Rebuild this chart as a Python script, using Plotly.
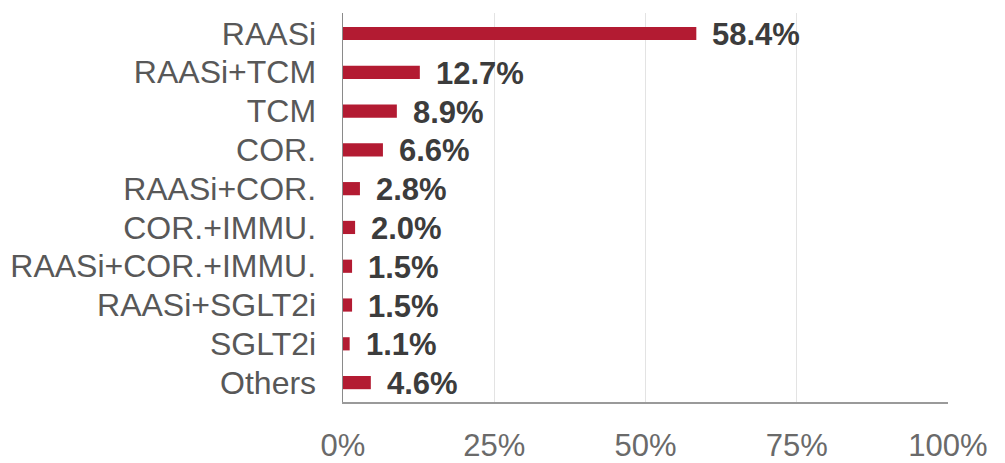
import plotly.graph_objects as go

categories = ["RAASi", "RAASi+TCM", "TCM", "COR.", "RAASi+COR.", "COR.+IMMU.",
              "RAASi+COR.+IMMU.", "RAASi+SGLT2i", "SGLT2i", "Others"]
values = [58.4, 12.7, 8.9, 6.6, 2.8, 2.0, 1.5, 1.5, 1.1, 4.6]
tick_vals = [0, 25, 50, 75, 100]
tick_text = ["0%", "25%", "50%", "75%", "100%"]

bar_color = "#B31B32"
FONT = "Liberation Sans, Arial, sans-serif"

fig = go.Figure()
fig.add_trace(go.Bar(
    x=values, y=categories, orientation="h",
    marker=dict(color=bar_color, line=dict(width=0)),
    width=0.34, hoverinfo="skip",
))

for c, v in zip(categories, values):
    fig.add_annotation(
        x=v, y=c, text=f"<b>{v:.1f}%</b>", showarrow=False,
        xanchor="left", yanchor="middle", xshift=14, yshift=-1,
        font=dict(family=FONT, size=31, color="#3c3c3c"),
    )

fig.update_layout(
    width=1005, height=463,
    margin=dict(l=343, r=57, t=13, b=61, autoexpand=False),
    paper_bgcolor="white", plot_bgcolor="white",
    showlegend=False,
    font=dict(family=FONT, size=31, color="#555555"),
)
fig.update_xaxes(
    range=[0, 100], tickvals=tick_vals, ticktext=tick_text,
    showgrid=True, gridcolor="#e3e3e3", gridwidth=1,
    showline=True, linecolor="#9a9a9a", linewidth=2,
    zeroline=False, ticks="", ticklabelstandoff=15,
    tickfont=dict(size=31, color="#6a6a6a"),
    fixedrange=True, automargin=False,
)
fig.update_yaxes(
    categoryorder="array", categoryarray=categories, autorange="reversed",
    showgrid=False, showline=True, linecolor="#8a8a8a", linewidth=1.5,
    ticks="", ticklabelstandoff=19,
    tickfont=dict(size=32, color="#585858"),
    fixedrange=True, automargin=False,
)

fig.write_html(
    "out.html",
    config={"displayModeBar": False, "staticPlot": True},
    post_script="document.body.style.margin='0';document.body.style.overflow='hidden';",
)
